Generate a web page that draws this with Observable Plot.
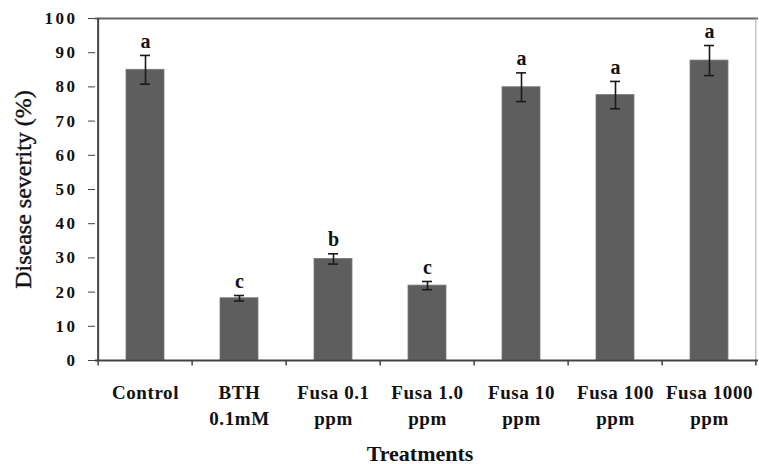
<!DOCTYPE html>
<html>
<head>
<meta charset="utf-8">
<script src="https://cdn.jsdelivr.net/npm/d3@7"></script>
<script src="https://cdn.jsdelivr.net/npm/@observablehq/plot@0.6"></script>
<style>
  html, body { margin: 0; padding: 0; background: #fff; }
  #chart svg { display: block; }
  #chart svg text { font-family: "Liberation Serif", serif !important; }
  #chart svg g[aria-label="x-axis tick label"] text { letter-spacing: 0.6px; }
  #chart svg g[aria-label="y-axis tick label"] text { letter-spacing: 2.5px; }
</style>
</head>
<body>
<div id="chart"></div>
<script>
const categories = ["Control", "BTH 0.1mM", "Fusa 0.1 ppm", "Fusa 1.0 ppm", "Fusa 10 ppm", "Fusa 100 ppm", "Fusa 1000 ppm"];
const tickLabels = ["Control", "BTH\n0.1mM", "Fusa 0.1\nppm", "Fusa 1.0\nppm", "Fusa 10\nppm", "Fusa 100\nppm", "Fusa 1000\nppm"];
const severity = [85.0, 18.2, 29.7, 21.9, 79.9, 77.6, 87.7];
const errors = [4.2, 0.8, 1.5, 1.2, 4.2, 4.0, 4.4];
const letters = ["a", "c", "b", "c", "a", "a", "a"];
const yTicks = [0, 10, 20, 30, 40, 50, 60, 70, 80, 90, 100];

const data = categories.map((c, i) => ({
  cat: c, v: severity[i], lo: severity[i] - errors[i], hi: severity[i] + errors[i], letter: letters[i]
}));
const labelOf = new Map(categories.map((c, i) => [c, tickLabels[i]]));

const W = 759, H = 464, ML = 95, MR = 1, MT = 18, MB = 104;
const step = (W - ML - MR) / categories.length;

const chart = Plot.plot({
  width: W,
  height: H,
  marginLeft: ML,
  marginRight: MR,
  marginTop: MT,
  marginBottom: MB,
  style: { background: "#fff", overflow: "visible" },
  x: { domain: categories, paddingInner: 0.6, paddingOuter: 0.3 },
  y: { domain: [0, 100] },
  marks: [
    Plot.ruleY([100], { stroke: "#666", strokeWidth: 2 }),
    Plot.ruleX([categories[categories.length - 1]], { y1: 0, y2: 100, dx: step / 2 - 1, stroke: "#aaa", strokeWidth: 1 }),
    Plot.barY(data, { x: "cat", y: "v", fill: "#5e5e5e", stroke: "#7a7a7a", strokeWidth: 0.8 }),
    Plot.ruleX(data, { x: "cat", y1: "lo", y2: "hi", stroke: "#1a1a1a", strokeWidth: 1.6 }),
    Plot.tickY(data, { x: "cat", y: "lo", stroke: "#1a1a1a", strokeWidth: 1.6, insetLeft: 14, insetRight: 14 }),
    Plot.tickY(data, { x: "cat", y: "hi", stroke: "#1a1a1a", strokeWidth: 1.6, insetLeft: 14, insetRight: 14 }),
    Plot.text(data, { x: "cat", y: "hi", text: "letter", dy: -14, fontSize: 20, fontWeight: "bold", fill: "#111" }),
    Plot.ruleX(categories, { x: d => d, y1: -1.6, y2: 0, dx: -step / 2, stroke: "#444", strokeWidth: 1.5 }),
    Plot.ruleX([categories[categories.length - 1]], { y1: -1.6, y2: 0, dx: step / 2 - 1, stroke: "#444", strokeWidth: 1.5 }),
    Plot.axisY({ ticks: yTicks, tickSize: 7, tickPadding: 11, fontSize: 17, stroke: "#444", fill: "#111", label: null, tickFormat: d => String(d) }),
    Plot.axisX({ tickSize: 0, tickPadding: 20, fontSize: 19, fill: "#111", lineHeight: 1.37, label: null, tickFormat: d => labelOf.get(d) }),
    Plot.ruleX([categories[0]], { y1: 0, y2: 100, dx: -step / 2, stroke: "#444", strokeWidth: 2 }),
    Plot.ruleY([0], { stroke: "#444", strokeWidth: 2 }),
    Plot.text(["Disease severity (%)"], { frameAnchor: "left", textAnchor: "middle", lineAnchor: "middle", dx: -72, rotate: -90, fontSize: 24, fill: "#111", stroke: "#111", strokeWidth: 0.4, text: d => d }),
    Plot.text(["Treatments"], { frameAnchor: "bottom", lineAnchor: "bottom", dx: -7, dy: 100, fontSize: 22, fontWeight: "bold", fill: "#111", text: d => d })
  ]
});

chart.querySelectorAll('g[aria-label="y-axis tick label"], g[aria-label="x-axis tick label"]').forEach(g => g.setAttribute("font-weight", "bold"));
document.getElementById("chart").appendChild(chart);
</script>
</body>
</html>
